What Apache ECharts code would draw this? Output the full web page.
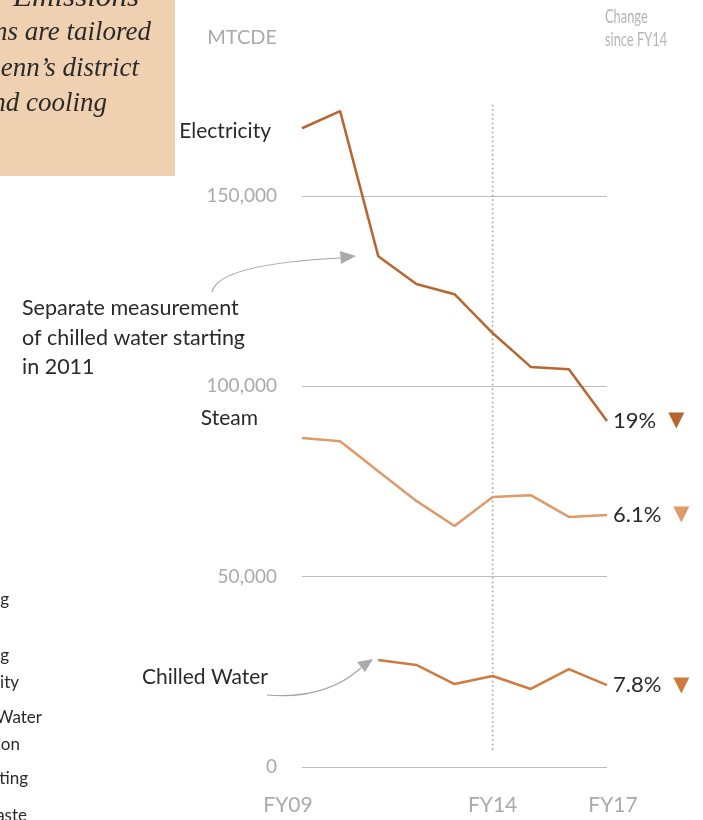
<!DOCTYPE html>
<html><head><meta charset="utf-8">
<script src="https://cdn.jsdelivr.net/npm/echarts@6/dist/echarts.min.js"></script>
<style>html,body{margin:0;padding:0;background:#fff}#c{width:703px;height:820px}</style>
</head><body><div id="c"></div>
<script>
const years = ['FY09','FY10','FY11','FY12','FY13','FY14','FY15','FY16','FY17'];
const shownYears = ['FY09','FY14','FY17'];
const electricity = [167800, 172300, 134200, 126900, 124200, 114000, 105100, 104500, 90900];
const steam = [86400, 85600, 77700, 69900, 63300, 70900, 71400, 65700, 66200];
const chilledWater = [null, null, 28100, 26800, 21800, 23900, 20500, 25700, 21500];
const changeSinceFY14 = ['19%', '6.1%', '7.8%'];
const yTicks = [0, 50000, 100000, 150000];
const baseYear = 'FY14';

const SANS = 'Lato, "Noto Sans", sans-serif';
const SERIF = '"Liberation Serif", serif';
const colors = ['#b7662f', '#df9a69', '#cf7a3e'];

function endLbl(txt, col){
  return {
    show: true, distance: 6,
    formatter: '{v|' + txt + '}{t|▼}',
    rich: {
      v: {fontFamily: SANS, fontSize: 22, color: '#2a2a2a'},
      t: {fontFamily: '"DejaVu Sans"', fontSize: 21, color: col, padding: [0,0,0,12]}
    }
  };
}

const chart = echarts.init(document.getElementById('c'));
const txt = (text, x, y, opts, extra) => Object.assign({type:'text', style: Object.assign({text, x, y, fontFamily: SANS, fontSize: 21, fill: '#2a2a2a', textVerticalAlign: 'middle'}, opts||{})}, extra||{});
const it = {fontFamily: SERIF, fontStyle: 'italic', fontSize: 27, textAlign: 'right'};

const graphics = [
  {type: 'rect', shape: {x: 0, y: 0, width: 175, height: 176}, style: {fill: '#efd0b1'}, z: -1},
  txt('Emissions', 0, 0, it, {x: 139, y: -2, scaleX: 1.15, scaleY: 1.1}),
  txt('calculations are tailored', 151, 33, it),
  txt('to reflect Penn\u2019s district', 139, 69, it),
  txt('heating and cooling', 107, 104, it),
  txt('MTCDE', 277, 38, {fill: '#aaaaaa', fontSize: 20, textAlign: 'right'}),
  txt('Change', 0, 0, {fill: '#b5b5b5', fontSize: 19.5}, {x: 605, y: 17, scaleX: 0.66}),
  txt('since FY14', 0, 0, {fill: '#b5b5b5', fontSize: 19.5}, {x: 605, y: 40, scaleX: 0.66}),
  txt('Electricity', 271, 131, {textAlign: 'right'}),
  txt('Steam', 258, 418, {textAlign: 'right'}),
  txt('Chilled Water', 268, 677, {textAlign: 'right'}),
  txt('Separate measurement', 22, 308, {fontSize: 21.5}),
  txt('of chilled water starting', 22, 338, {fontSize: 21.5}),
  txt('in 2011', 22, 367, {fontSize: 21.5}),
  txt('Heating', 9, 600, {fontSize: 17, textAlign: 'right'}),
  txt('Cooling', 9, 656, {fontSize: 17, textAlign: 'right'}),
  txt('Electricity', 19, 683, {fontSize: 17, textAlign: 'right'}),
  txt('Chilled Water', 42, 718, {fontSize: 17, textAlign: 'right'}),
  txt('Distribution', 20, 745, {fontSize: 17, textAlign: 'right'}),
  txt('Lighting', 28, 779, {fontSize: 17, textAlign: 'right'}),
  txt('Solid Waste', 27, 816, {fontSize: 17, textAlign: 'right'}),
  {type: 'bezierCurve', shape: {x1: 212, y1: 292, cpx1: 218, cpy1: 264, x2: 342, y2: 258}, style: {stroke: '#a5a5a5', lineWidth: 1.2, fill: null}},
  {type: 'polygon', shape: {points: [[356, 256], [340, 251], [341, 264]]}, style: {fill: '#a9aaab'}},
  {type: 'bezierCurve', shape: {x1: 267, y1: 695, cpx1: 325, cpy1: 700, x2: 361, y2: 668}, style: {stroke: '#a5a5a5', lineWidth: 1.2, fill: null}},
  {type: 'polygon', shape: {points: [[373, 659], [357, 662], [365, 672]]}, style: {fill: '#a9aaab'}}
];

chart.setOption({
  animation: false,
  grid: {left: 302, right: 96, top: 196, bottom: 53},
  xAxis: {
    type: 'category', data: years, boundaryGap: false,
    axisLine: {show: false}, axisTick: {show: false},
    axisLabel: {
      interval: (i, v) => shownYears.includes(v), margin: 28,
      formatter: v => v === 'FY09' ? '{a|' + v + '}' : (v === 'FY17' ? '{c|' + v + '}' : '{b|' + v + '}'),
      rich: {
        a: {fontFamily: SANS, fontSize: 21, color: '#aaaaaa', padding: [0,28,0,0]},
        b: {fontFamily: SANS, fontSize: 21, color: '#aaaaaa'},
        c: {fontFamily: SANS, fontSize: 21, color: '#aaaaaa', padding: [0,0,0,12]}
      }
    }
  },
  yAxis: {
    type: 'value', min: yTicks[0], max: yTicks[yTicks.length-1], interval: 50000,
    axisLine: {show: false}, axisTick: {show: false},
    axisLabel: {margin: 25, fontFamily: SANS, fontSize: 19, color: '#aaaaaa', formatter: v => v.toLocaleString('en-US')},
    splitLine: {lineStyle: {color: '#bdbdbd', width: 1}}
  },
  series: [
    {type: 'line', name: 'Electricity', data: electricity, clip: false, symbol: 'none',
     lineStyle: {color: colors[0], width: 2.5}, endLabel: endLbl(changeSinceFY14[0], colors[0])},
    {type: 'line', name: 'Steam', data: steam, clip: false, symbol: 'none',
     lineStyle: {color: colors[1], width: 2.5}, endLabel: endLbl(changeSinceFY14[1], colors[1])},
    {type: 'line', name: 'Chilled Water', data: chilledWater, clip: false, symbol: 'none',
     lineStyle: {color: colors[2], width: 2.5}, endLabel: endLbl(changeSinceFY14[2], colors[2])}
  ],
  graphic: graphics
});

const pTop = chart.convertToPixel({gridIndex: 0}, [baseYear, 174000]);
const pBot = chart.convertToPixel({gridIndex: 0}, [baseYear, 4200]);
graphics.push({type: 'line', z: 1, shape: {x1: pTop[0], y1: pTop[1], x2: pBot[0], y2: pBot[1]},
  style: {stroke: '#9a9a9a', lineWidth: 1.5, lineDash: [1.5, 3]}});
chart.setOption({graphic: graphics});
</script></body></html>
